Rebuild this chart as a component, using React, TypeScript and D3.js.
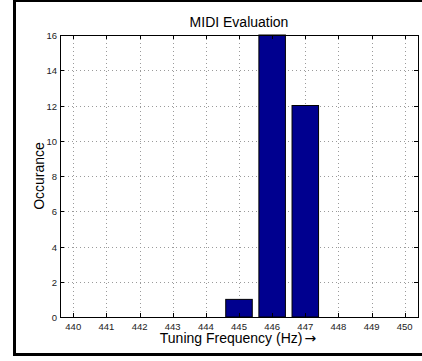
import React from "react";
import * as d3 from "d3";

const frequencies = [440, 441, 442, 443, 444, 445, 446, 447, 448, 449, 450];
const counts = [0, 0, 0, 0, 0, 1, 16, 12, 0, 0, 0];
const yTicks = [0, 2, 4, 6, 8, 10, 12, 14, 16];
const title = "MIDI Evaluation";
const xLabel = "Tuning Frequency (Hz)";
const yLabel = "Occurance";

const W = 422;
const H = 361;
const left = 60;
const right = 418;
const top = 35;
const bottom = 317;
const FONT = "'Liberation Sans', Arial, Helvetica, sans-serif";

export default function App() {
  const x = d3.scaleLinear().domain([439.6, 450.4]).range([left, right]);
  const y = d3.scaleLinear().domain([0, 16]).range([bottom, top]);
  const barW = x(440.8) - x(440);
  const tick = 4;
  const gridColor = "#9a9a9a";

  return (
    <svg
      width={W}
      height={H}
      style={{ position: "absolute", left: 0, top: 0, background: "#fff" }}
      fontFamily={FONT}
    >
      <rect x={0} y={0} width={W} height={H} fill="#fff" />
      {/* outer frame */}
      <rect x={14.5} y={0.5} width={420} height={354} fill="none" stroke="#000" strokeWidth={3} />

      {/* grid */}
      {frequencies.map((f) => (
        <line
          key={"gx" + f}
          x1={Math.round(x(f)) + 0.5}
          x2={Math.round(x(f)) + 0.5}
          y1={top}
          y2={bottom}
          stroke={gridColor}
          strokeWidth={1}
          strokeDasharray="1,3"
        />
      ))}
      {yTicks.map((t) => (
        <line
          key={"gy" + t}
          x1={left}
          x2={right}
          y1={Math.round(y(t)) + 0.5}
          y2={Math.round(y(t)) + 0.5}
          stroke={gridColor}
          strokeWidth={1}
          strokeDasharray="1,3"
        />
      ))}

      {/* bars */}
      {frequencies.map((f, i) =>
        counts[i] > 0 ? (
          <rect
            key={"b" + f}
            x={x(f) - barW / 2}
            y={y(counts[i])}
            width={barW}
            height={y(0) - y(counts[i])}
            fill="#00008f"
            stroke="#000"
            strokeWidth={1}
          />
        ) : null
      )}

      {/* axes box */}
      <rect
        x={left + 0.5}
        y={top + 0.5}
        width={right - left}
        height={bottom - top}
        fill="none"
        stroke="#000"
        strokeWidth={1}
      />

      {/* ticks */}
      {frequencies.map((f) => {
        const px = Math.round(x(f)) + 0.5;
        return (
          <g key={"tx" + f}>
            <line x1={px} x2={px} y1={bottom} y2={bottom - tick} stroke="#000" />
            <line x1={px} x2={px} y1={top} y2={top + tick} stroke="#000" />
            <text
              x={x(f)}
              y={bottom + 12.5}
              fontSize={9.5}
              textAnchor="middle"
              fill="#222"
            >
              {f}
            </text>
          </g>
        );
      })}
      {yTicks.map((t) => {
        const py = Math.round(y(t)) + 0.5;
        return (
          <g key={"ty" + t}>
            <line x1={left} x2={left + tick} y1={py} y2={py} stroke="#000" />
            <line x1={right} x2={right - tick} y1={py} y2={py} stroke="#000" />
            <text
              x={left - 3}
              y={py + 3.5}
              fontSize={9.5}
              textAnchor="end"
              fill="#222"
            >
              {t}
            </text>
          </g>
        );
      })}

      {/* title */}
      <text x={(left + right) / 2} y={27} fontSize={14} textAnchor="middle" fill="#000">
        {title}
      </text>

      {/* x label */}
      <text x={(left + right) / 2 - 1} y={343} fontSize={14} textAnchor="middle" fill="#000">
        {xLabel}
        <tspan dx={2} fontFamily="'DejaVu Sans', sans-serif" fontSize={14}>
          {"\u2192"}
        </tspan>
      </text>

      {/* y label */}
      <text
        transform={`translate(44, ${(top + bottom) / 2}) rotate(-90)`}
        fontSize={14}
        textAnchor="middle"
        fill="#000"
      >
        {yLabel}
      </text>
    </svg>
  );
}
